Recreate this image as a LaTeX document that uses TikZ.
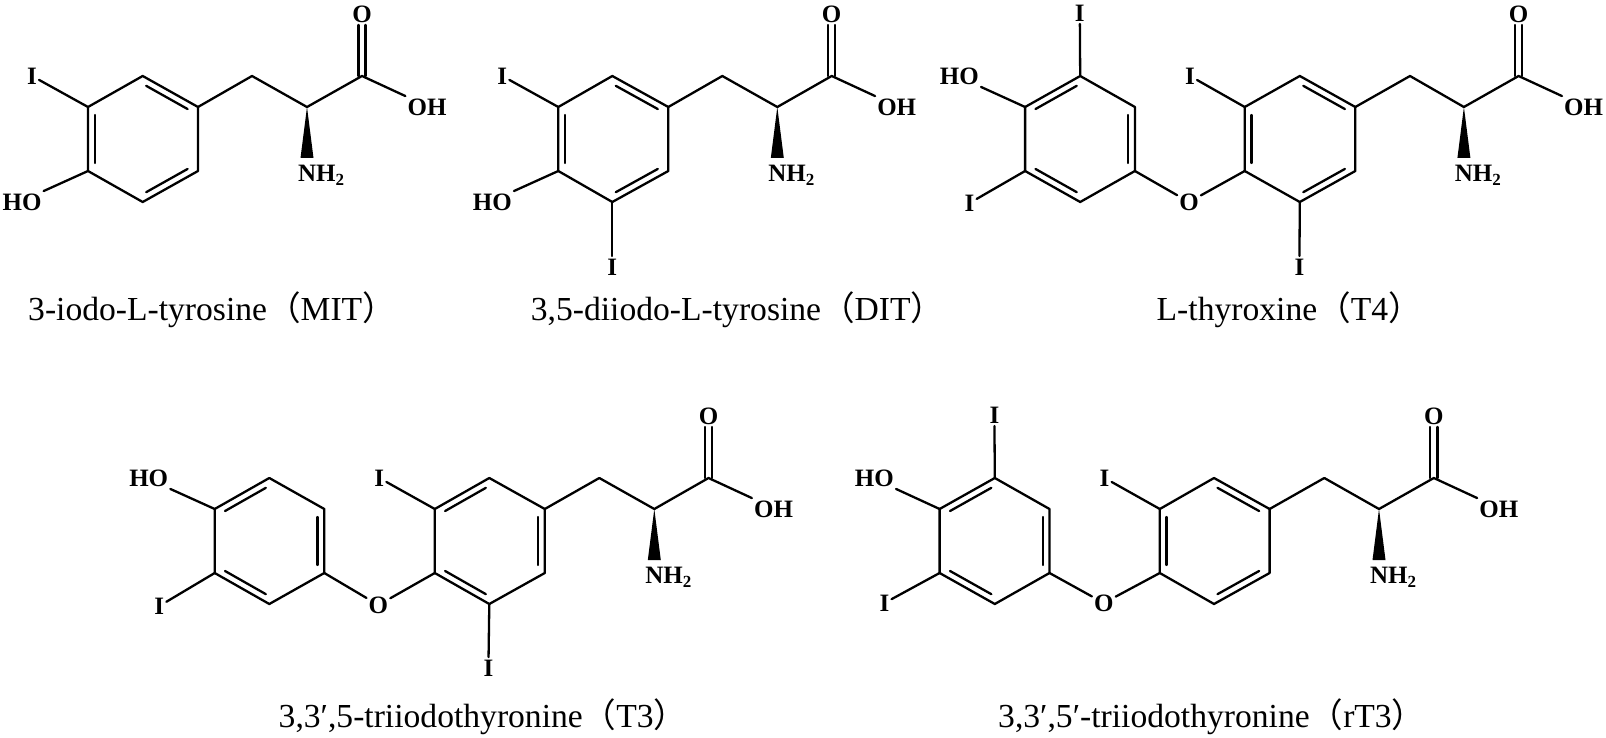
\documentclass[tikz,border=0pt]{standalone}
\usepackage{fontspec}
\setmainfont{Liberation Serif}
\newfontfamily\cjkf{Noto Sans CJK SC}[Scale=1]
\usetikzlibrary{calc}
\tikzset{
  bond/.style={line width=2.3pt,line cap=round,line join=round,draw=black},
  innerbond/.style={bond,shorten >=4pt,shorten <=4pt},
  atom/.style={inner xsep=2pt,inner ysep=2.5pt,text height=16.5pt,text depth=0pt,font=\fontsize{25}{25}\selectfont\bfseries},
  caption/.style={anchor=base west,inner sep=0pt,font=\fontsize{33.6}{33.6}\selectfont}
}
\newcommand{\lp}{{\cjkf （}}
\newcommand{\rp}{{\cjkf ）}}
% ring: name, x left, x mid, x right, y top
\newcommand{\benzene}[5]{
  \coordinate (#1a) at (#2,{#5+31});
  \coordinate (#1b) at (#3,#5);
  \coordinate (#1c) at (#4,{#5+31});
  \coordinate (#1d) at (#4,{#5+95});
  \coordinate (#1e) at (#3,{#5+126});
  \coordinate (#1f) at (#2,{#5+95});
  \coordinate (#1o) at (#3,{#5+63});
  \draw[bond] (#1a)--(#1b)--(#1c)--(#1d)--(#1e)--(#1f)--cycle;
}
% double-bond inner line: ring, first atom, second atom
\newcommand{\dbl}[3]{\draw[innerbond] ($(#1#2)!0.125!(#1o)$) -- ($(#1#3)!0.125!(#1o)$);}
% amino-acid side chain: name, ring atom, x CH2, x CH, x C, y top
\newcommand{\sidechain}[6]{
  \coordinate (#1m) at (#3,#6);
  \coordinate (#1h) at (#4,{#6+31});
  \coordinate (#1k) at (#5,#6);
  \node[atom] (#1O) at (#5,{#6-62}) {O};
  \node[atom] (#1OH) at ({#5+65},{#6+31}) {OH};
  \node[atom] (#1N) at ({#4+14},{#6+97}) {NH{\fontsize{17}{17}\selectfont\raisebox{-4.5pt}{2}}};
  \draw[bond] (#2)--(#1m)--(#1h)--(#1k)--(#1OH.north west);
  \draw[bond] ($(#1k)+(-3.6,0)$) -- ($(#1O.south)+(-3.6,0)$);
  \draw[bond] ($(#1k)+(3.6,0)$) -- ($(#1O.south)+(3.6,0)$);
  \fill[black] (#1h) -- ++(-6.5,51) -- ++(13,0) -- cycle;
}
\begin{document}
\begin{tikzpicture}[x=1pt,y=-1pt]
\useasboundingbox (0,0) rectangle (1606,738);
\fill[white] (0,0) rectangle (1606,738);

% MIT
\benzene{A}{88}{142.7}{198}{76}
\dbl{A}{a}{f}\dbl{A}{b}{c}\dbl{A}{d}{e}
\sidechain{A}{Ac}{252}{307}{362}{76}
\node[atom] (AI) at (32,76) {I};
\node[atom] (AHO) at (22,202) {HO};
\draw[bond] (Aa)--(AI);
\draw[bond] (Af)--(AHO.north east);
\node[caption] (Acap) at (28,320) {3-iodo-L-tyrosine\lp MIT\rp};

% DIT
\benzene{B}{558.3}{612.3}{668.3}{76}
\dbl{B}{a}{f}\dbl{B}{b}{c}\dbl{B}{d}{e}
\sidechain{B}{Bc}{722.3}{777.3}{831.7}{76}
\node[atom] (BI) at (502.3,76) {I};
\node[atom] (BHO) at (492.3,202) {HO};
\node[atom] (BJ) at (612.3,267) {I};
\draw[bond] (Ba)--(BI);
\draw[bond] (Bf)--(BHO.north east);
\draw[bond] (Be)--(BJ);
\node[caption] (Bcap) at (530.7,320) {3,5-diiodo-L-tyrosine\lp DIT\rp};

% T4
\benzene{C}{1025.1}{1080.2}{1134.9}{76}
\dbl{C}{a}{b}\dbl{C}{c}{d}\dbl{C}{e}{f}
\benzene{D}{1244.7}{1299.8}{1355.3}{76}
\dbl{D}{a}{f}\dbl{D}{b}{c}\dbl{D}{d}{e}
\sidechain{D}{Dc}{1410}{1463.9}{1518.6}{76}
\node[atom] (CHO) at (959.4,76) {HO};
\node[atom] (CI) at (1079.8,13) {I};
\node[atom] (CJ) at (969.6,203) {I};
\node[atom] (CDO) at (1189,202) {O};
\node[atom] (DI) at (1190,76) {I};
\node[atom] (DJ) at (1299.4,267) {I};
\draw[bond] (Ca)--(CHO.south east);
\draw[bond] (Cb)--(CI);
\draw[bond] (Cf)--(CJ);
\draw[bond] (Cd)--(CDO);
\draw[bond] (Df)--(CDO);
\draw[bond] (Da)--(DI);
\draw[bond] (De)--(DJ);
\node[caption] (Ccap) at (1156.5,320) {L-thyroxine\lp T4\rp};

% T3
\benzene{E}{214.7}{269.3}{324.3}{478}
\dbl{E}{a}{b}\dbl{E}{c}{d}\dbl{E}{e}{f}
\benzene{F}{434.8}{489.3}{544.8}{478}
\dbl{F}{a}{b}\dbl{F}{c}{d}\dbl{F}{e}{f}
\sidechain{F}{Fc}{599.3}{654.3}{708.5}{478}
\node[atom] (EHO) at (148.7,478) {HO};
\node[atom] (EJ) at (159.3,606) {I};
\node[atom] (EFO) at (378.4,605) {O};
\node[atom] (FI) at (379.3,478) {I};
\node[atom] (FJ) at (488.4,668) {I};
\draw[bond] (Ea)--(EHO.south east);
\draw[bond] (Ef)--(EJ);
\draw[bond] (Ed)--(EFO);
\draw[bond] (Ff)--(EFO);
\draw[bond] (Fa)--(FI);
\draw[bond] (Fe)--(FJ);
\node[caption] (Ecap) at (278.5,727) {3,3′,5-triiodothyronine\lp T3\rp};

% rT3
\benzene{G}{939.6}{994.8}{1049.5}{478}
\dbl{G}{a}{b}\dbl{G}{c}{d}\dbl{G}{e}{f}
\benzene{H}{1159.8}{1214}{1269.6}{478}
\dbl{H}{a}{f}\dbl{H}{b}{c}\dbl{H}{d}{e}
\sidechain{H}{Hc}{1324.3}{1379}{1433.8}{478}
\node[atom] (GHO) at (874.4,478) {HO};
\node[atom] (GI) at (994.4,415) {I};
\node[atom] (GJ) at (884.5,603) {I};
\node[atom] (GHOx) at (1103.8,603) {O};
\node[atom] (HI) at (1104.6,478) {I};
\draw[bond] (Ga)--(GHO.south east);
\draw[bond] (Gb)--(GI);
\draw[bond] (Gf)--(GJ);
\draw[bond] (Gd)--(GHOx);
\draw[bond] (Hf)--(GHOx);
\draw[bond] (Ha)--(HI);
\node[caption] (Gcap) at (998,727) {3,3′,5′-triiodothyronine\lp rT3\rp};
\end{tikzpicture}
\end{document}
